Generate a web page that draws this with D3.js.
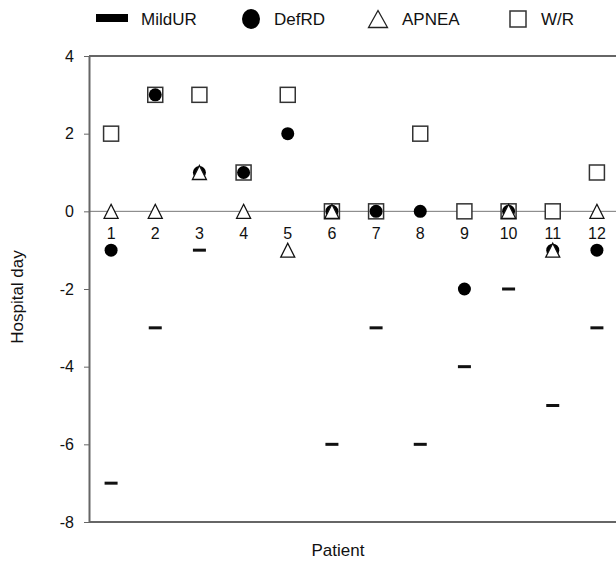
<!DOCTYPE html>
<html>
<head>
<meta charset="utf-8">
<script src="https://cdn.jsdelivr.net/npm/d3@7"></script>
<style>
  body { margin: 0; background: #fff; }
  text { font-family: "Liberation Sans", Arial, sans-serif; fill: #111; }
</style>
</head>
<body>
<script>
const width = 616, height = 561;

// data (null = no mark)
const patients = [1, 2, 3, 4, 5, 6, 7, 8, 9, 10, 11, 12];
const mildUR = [-7, -3, -1, null, null, -6, -3, -6, -4, -2, -5, -3];
const defRD  = [-1, 3, 1, 1, 2, 0, 0, 0, -2, 0, -1, -1];
const apnea  = [0, 0, 1, 0, -1, 0, null, null, null, 0, -1, 0];
const wr     = [2, 3, 3, 1, 3, 0, 0, 2, 0, 0, 0, 1];
const yTicks = [-8, -6, -4, -2, 0, 2, 4];

const plotLeft = 89, plotTop = 56, plotBottom = 522, plotRight = 620;

const svg = d3.select("body").append("svg")
  .attr("width", width)
  .attr("height", height);

const x = d3.scaleLinear().domain([0.5, 12.5]).range([plotLeft, plotRight - 1]);
const y = d3.scaleLinear().domain([-8, 4]).range([plotBottom, plotTop]);

// zero line
svg.append("line")
  .attr("x1", plotLeft).attr("x2", plotRight)
  .attr("y1", y(0)).attr("y2", y(0))
  .attr("stroke", "#777").attr("stroke-width", 1);

// frame (top + bottom; right side runs off the page)
svg.append("line")
  .attr("x1", plotLeft).attr("x2", plotRight)
  .attr("y1", plotTop).attr("y2", plotTop)
  .attr("stroke", "#666").attr("stroke-width", 2);
svg.append("line")
  .attr("x1", plotLeft).attr("x2", plotRight)
  .attr("y1", plotBottom).attr("y2", plotBottom)
  .attr("stroke", "#666").attr("stroke-width", 2);

const yAxis = svg.append("g")
  .attr("transform", `translate(${plotLeft},0)`)
  .call(d3.axisLeft(y).tickValues(yTicks).tickFormat(d => String(d))
    .tickSize(5).tickSizeOuter(0).tickPadding(10));
yAxis.select(".domain").attr("stroke", "#666").attr("stroke-width", 2);
yAxis.selectAll(".tick line").attr("stroke", "#666");
yAxis.selectAll(".tick text")
  .attr("font-size", 16).attr("fill", "#111")
  .style("font-family", "'Liberation Sans', Arial, sans-serif");

// patient labels sit under the zero line
svg.append("g").selectAll("text")
  .data(patients)
  .enter().append("text")
    .attr("x", d => x(d))
    .attr("y", y(0) + 28)
    .attr("text-anchor", "middle")
    .attr("font-size", 16)
    .text(d => d);

// MildUR dashes
svg.append("g").selectAll("rect")
  .data(patients.filter((p, i) => mildUR[i] !== null))
  .enter().append("rect")
    .attr("x", d => x(d) - 6.5)
    .attr("y", d => y(mildUR[d - 1]) - 1.5)
    .attr("width", 13).attr("height", 3)
    .attr("fill", "#111");

// W/R squares
svg.append("g").selectAll("rect")
  .data(patients)
  .enter().append("rect")
    .attr("x", d => x(d) - 7.5)
    .attr("y", d => y(wr[d - 1]) - 7.5)
    .attr("width", 15).attr("height", 15)
    .attr("fill", "#fff")
    .attr("stroke", "#333").attr("stroke-width", 1.5);

// DefRD circles
svg.append("g").selectAll("circle")
  .data(patients)
  .enter().append("circle")
    .attr("cx", d => x(d))
    .attr("cy", d => y(defRD[d - 1]))
    .attr("r", 6.5)
    .attr("fill", "#000");

// APNEA triangles
const tri = (cx, cy, w, h) =>
  `M${cx},${cy - h / 2}L${cx + w / 2},${cy + h / 2}L${cx - w / 2},${cy + h / 2}Z`;
svg.append("g").selectAll("path")
  .data(patients.filter((p, i) => apnea[i] !== null))
  .enter().append("path")
    .attr("d", d => tri(x(d), y(apnea[d - 1]), 14, 14))
    .attr("fill", "#fff")
    .attr("stroke", "#111").attr("stroke-width", 1.3);

// legend
const legend = svg.append("g");
legend.append("rect").attr("x", 96).attr("y", 14).attr("width", 32).attr("height", 8).attr("fill", "#000");
legend.append("ellipse").attr("cx", 251).attr("cy", 19).attr("rx", 9).attr("ry", 10).attr("fill", "#000");
legend.append("path").attr("d", tri(378, 19, 19, 17)).attr("fill", "#fff").attr("stroke", "#222").attr("stroke-width", 1.3);
legend.append("rect").attr("x", 510).attr("y", 11).attr("width", 16).attr("height", 16)
  .attr("fill", "#fff").attr("stroke", "#333").attr("stroke-width", 1.5);

const legendLabels = ["MildUR", "DefRD", "APNEA", "W/R"];
const legendX = [141, 274, 402, 541];
legend.selectAll("text")
  .data(legendLabels)
  .enter().append("text")
    .attr("x", (d, i) => legendX[i])
    .attr("y", 25)
    .attr("font-size", 17)
    .text(d => d);

// axis titles
svg.append("text")
  .attr("x", 338).attr("y", 556)
  .attr("text-anchor", "middle")
  .attr("font-size", 17)
  .text("Patient");

svg.append("text")
  .attr("transform", `translate(23,297) rotate(-90)`)
  .attr("text-anchor", "middle")
  .attr("font-size", 17)
  .text("Hospital day");
</script>
</body>
</html>
